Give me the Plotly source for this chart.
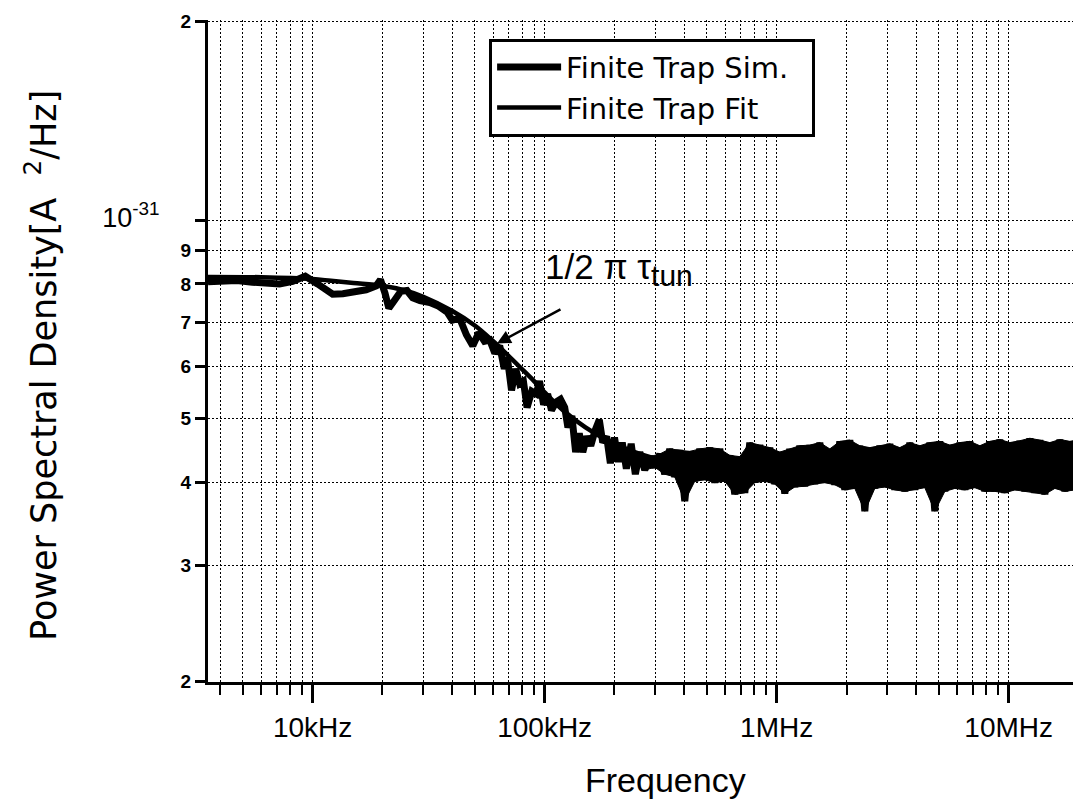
import numpy as np
import plotly.graph_objects as go

# ---------------- data ----------------
# Simulation, low/mid frequency part (kHz, x1e-32 A^2/Hz)
sim_f_khz = [3.54, 4.2, 4.72, 5.5, 6.3, 7.2, 8.2, 9.3, 10.5, 11.5, 12.2, 13.5, 15.0, 17.0,
             18.8, 19.6, 20.5, 21.3, 22.5, 24.0, 25.5, 27.0, 29.0, 32.0, 35.0, 38.0, 40.0,
             43.0, 46.0, 49.0, 52.0, 55.0, 58.0, 61.0, 64.0, 67.0, 69.0, 72.0, 75.0, 78.0,
             81.0, 84.0, 88.0, 92.0, 95.0, 99.0, 103.0, 107.0, 112.0, 117.0, 122.0, 126.0,
             131.0, 136.0, 141.0, 146.0, 152.0, 158.0, 165.0, 172.0, 178.0, 185.0, 192.0,
             200.0, 208.0, 216.0, 225.0, 236.0, 246.0]
sim_v = [8.06, 8.06, 8.10, 8.05, 8.02, 8.00, 8.07, 8.22, 8.00, 7.80, 7.72, 7.73, 7.76, 7.84,
         7.95, 8.12, 7.75, 7.35, 7.55, 7.80, 7.82, 7.62, 7.55, 7.50, 7.40, 7.25, 7.05,
         7.10, 6.70, 6.45, 6.75, 6.55, 6.58, 6.28, 6.45, 5.95, 6.20, 5.52, 5.95, 5.65,
         5.70, 5.20, 5.50, 5.45, 5.70, 5.25, 5.45, 5.15, 5.30, 5.35, 5.20, 4.85,
         5.05, 4.45, 4.75, 4.45, 4.70, 4.55, 4.80, 4.98, 4.60, 4.70, 4.28,
         4.68, 4.30, 4.60, 4.20, 4.58, 4.12]

# Simulation, noisy plateau (257 kHz .. 21.3 MHz, evenly spaced in log f)
noise_f_start = 257e3
noise_f_end = 21.3e6
noise_v = [4.45, 4.18, 4.38, 4.22, 4.42, 4.12, 4.50, 4.08, 4.48, 3.75,
           4.46, 4.02, 4.50, 4.04, 4.52, 4.00, 4.50, 4.02, 4.40, 3.84,
           4.38, 3.86, 4.60, 4.00, 4.56, 4.02, 4.52, 3.98, 4.45, 3.85,
           4.50, 3.94, 4.55, 3.95, 4.56, 3.98, 4.60, 4.00, 4.50, 3.97,
           4.62, 3.90, 4.64, 3.92, 4.55, 3.62, 4.52, 3.92, 4.55, 3.94,
           4.58, 3.90, 4.52, 3.88, 4.60, 3.90, 4.55, 3.93, 4.60, 3.62,
           4.62, 3.88, 4.56, 3.92, 4.60, 3.90, 4.62, 3.93, 4.55, 3.88,
           4.62, 3.88, 4.65, 3.86, 4.60, 3.90, 4.63, 3.88, 4.67, 3.86,
           4.64, 3.84, 4.60, 3.92, 4.65, 3.88, 4.62, 3.90, 4.65, 3.88]

# Fit curve (kHz, x1e-32 A^2/Hz)
fit_f_khz = [3.54, 6, 10, 12, 15, 20, 25, 30, 40, 50, 60, 70, 80, 90, 100, 120, 150,
             200, 300, 500, 1000, 3000, 21300]
fit_v = [8.20, 8.19, 8.14, 8.09, 8.03, 7.95, 7.82, 7.65, 7.28, 6.92, 6.55, 6.22, 5.94,
         5.70, 5.48, 5.15, 4.85, 4.58, 4.35, 4.22, 4.16, 4.14, 4.14]

unit = 1e-32

x_tick_vals = [1e4, 1e5, 1e6, 1e7]
x_tick_text = ["10kHz", "100kHz", "1MHz", "10MHz"]
y_tick_vals = [2e-32, 3e-32, 4e-32, 5e-32, 6e-32, 7e-32, 8e-32, 9e-32, 1e-31, 2e-31]
y_tick_text = ["2", "3", "4", "5", "6", "7", "8", "9", "10-31", "2"]

# ---------------- build ----------------
noise_f = np.geomspace(noise_f_start, noise_f_end, len(noise_v))
sim_x = [f * 1e3 for f in sim_f_khz] + list(noise_f)
sim_y = [v * unit for v in sim_v] + [v * unit for v in noise_v]
fit_x = [f * 1e3 for f in fit_f_khz]
fit_y = [v * unit for v in fit_v]

# envelope of the noisy plateau (upper readings forward, lower readings back)
band_x = list(noise_f[0::2]) + list(noise_f[1::2])[::-1]
band_y = [v * unit for v in noise_v[0::2]] + [v * unit for v in noise_v[1::2]][::-1]

fig = go.Figure()
fig.add_trace(go.Scatter(x=band_x, y=band_y, mode="lines", fill="toself",
                         fillcolor="black", line=dict(color="black", width=1),
                         showlegend=False, hoverinfo="skip"))
fig.add_trace(go.Scatter(x=sim_x, y=sim_y, mode="lines", name="Finite Trap Sim.  ",
                         legendgroup="a",
                         line=dict(color="black", width=7)))
fig.add_trace(go.Scatter(x=fit_x, y=fit_y, mode="lines", name="Finite Trap Fit",
                         legendgroup="b",
                         line=dict(color="black", width=4.5, shape="spline")))

minor_x = [m * 10 ** e for e in range(3, 8) for m in range(2, 10)]

ytext = []
for t in y_tick_text:
    if t == "10-31":
        ytext.append('<span style="font-size:27px">10<sup>-31</sup></span>      ')
    else:
        ytext.append("<b>" + t + "</b>")

grid = dict(gridcolor="black", gridwidth=1, griddash="2px,2px")
base_font = "Liberation Sans, Arial"
wide_font = "DejaVu Sans, Verdana"

fig.update_xaxes(type="log", range=[np.log10(3.54e3), np.log10(2.05e7)],
                 automargin=False,
                 tickmode="array", tickvals=x_tick_vals, ticktext=x_tick_text,
                 ticks="outside", ticklen=18, tickwidth=2.5, tickcolor="black",
                 ticklabelstandoff=0,
                 tickfont=dict(family=base_font, size=28, color="black"),
                 showline=True, linecolor="black", linewidth=3,
                 showgrid=True, **grid, zeroline=False,
                 minor=dict(tickmode="array", tickvals=minor_x, ticks="outside", ticklen=10,
                            tickwidth=2, tickcolor="black", showgrid=True,
                            gridcolor="black", gridwidth=1, griddash="2px,2px"))
fig.update_yaxes(type="log", range=[np.log10(2e-32) - 0.001, np.log10(2e-31) + 0.002],
                 automargin=False,
                 tickmode="array", tickvals=y_tick_vals, ticktext=ytext,
                 ticks="outside", ticklen=10, tickwidth=3, tickcolor="black",
                 tickfont=dict(family=base_font, size=19, color="black"),
                 showline=True, linecolor="black", linewidth=3,
                 showgrid=True, **grid, zeroline=False)

fig.add_annotation(x=np.log10(62.3e3), y=np.log10(6.5e-32), xref="x", yref="y",
                   text="", showarrow=True, arrowhead=2, arrowsize=1.1, arrowwidth=2.5,
                   arrowcolor="black", ax=65, ay=-35)
fig.add_annotation(x=np.log10(98e3), y=np.log10(8.4e-32), xref="x", yref="y",
                   text='1/2 π τ<sub><span style="font-size:30px">tun</span></sub>',
                   showarrow=False, xanchor="left", yanchor="middle",
                   font=dict(family=base_font, size=35, color="black"))
fig.add_annotation(x=-0.192, y=0.478, xref="paper", yref="paper",
                   text="Power Spectral Density[A  <sup>2</sup>/Hz]", textangle=-90,
                   showarrow=False, xanchor="center", yanchor="middle",
                   font=dict(family=wide_font, size=35, color="black"))
fig.add_annotation(x=0.5235, y=-0.148, xref="paper", yref="paper",
                   text="Frequency", showarrow=False, xanchor="center", yanchor="middle",
                   font=dict(family=base_font, size=34, color="black"))

# page body adds an 8px offset, so the figure is 8px smaller than the window
fig.update_layout(width=1073, height=799,
                  margin=dict(l=200, r=0, t=11.5, b=125),
                  paper_bgcolor="white", plot_bgcolor="white",
                  showlegend=True,
                  legend=dict(x=0.322, y=0.972, xanchor="left", yanchor="top",
                              bgcolor="white", bordercolor="black", borderwidth=3,
                              font=dict(family=wide_font, size=29, color="black"),
                              tracegroupgap=0, itemwidth=64))

fig.write_html("out.html")
